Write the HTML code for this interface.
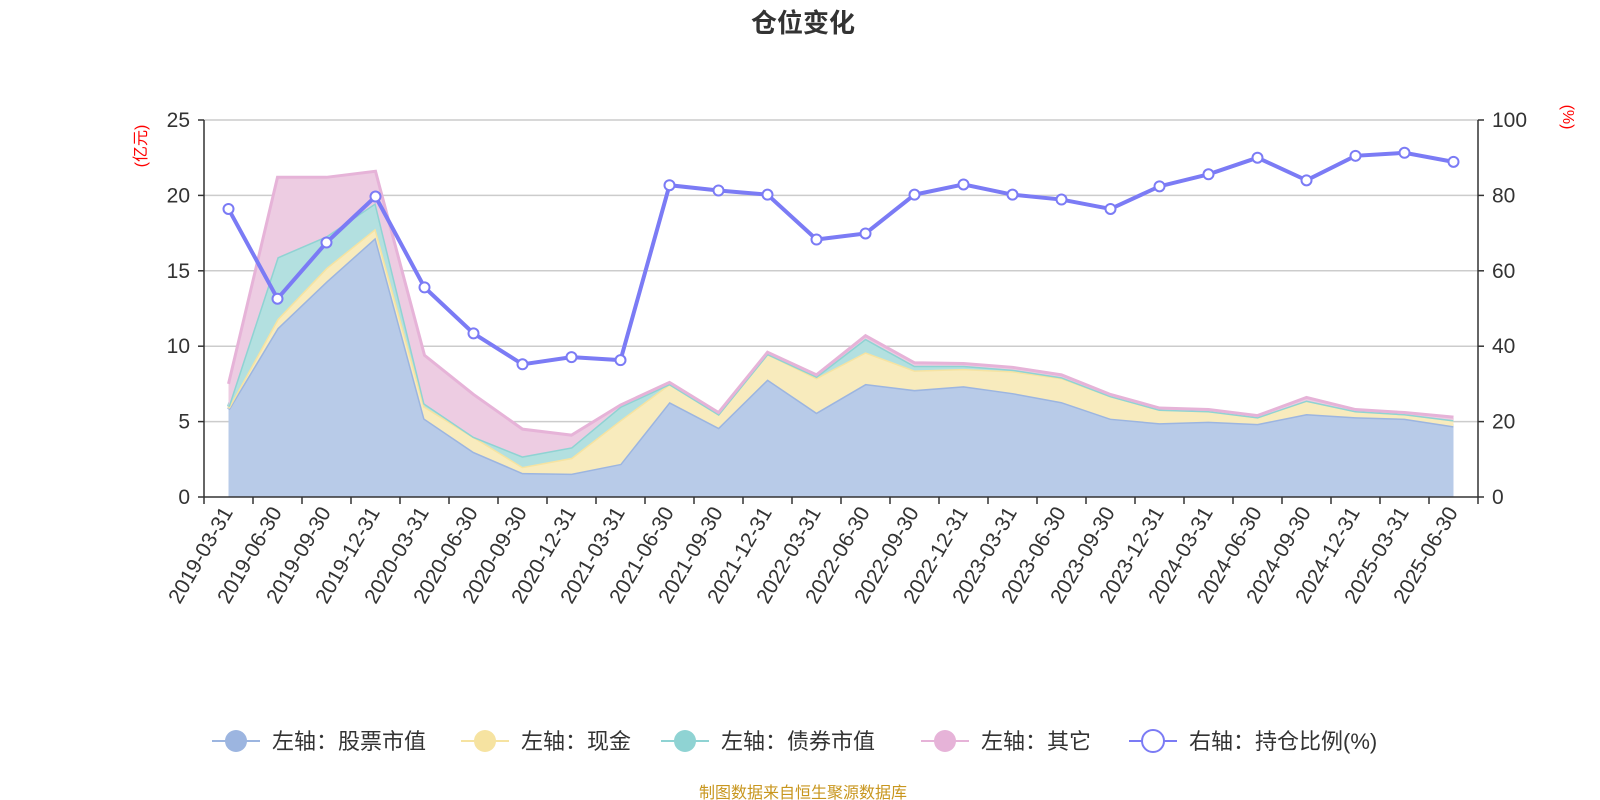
<!DOCTYPE html>
<html><head><meta charset="utf-8"><style>
body{margin:0;background:#fff}
svg{display:block;font-family:"Liberation Sans","Noto Sans CJK SC",sans-serif}
</style></head><body>
<svg id="c" width="1600" height="800" viewBox="0 0 1600 800">
<text x="803" y="32" text-anchor="middle" font-size="26" font-weight="bold" fill="#333">仓位变化</text>
<text transform="translate(146,146) rotate(-90)" text-anchor="middle" font-size="16" fill="#f00">(亿元)</text>
<text transform="translate(1563,117) rotate(90)" text-anchor="middle" font-size="16" fill="#f00">(%)</text>
<g id="grid"></g><g id="areas"></g><g id="axes"></g><g id="ratio"></g>
<g id="legend"></g>
<text x="803" y="798" text-anchor="middle" font-size="16" fill="#c8961e">制图数据来自恒生聚源数据库</text>
</svg>
<script>
const categories=["2019-03-31","2019-06-30","2019-09-30","2019-12-31","2020-03-31","2020-06-30","2020-09-30","2020-12-31","2021-03-31","2021-06-30","2021-09-30","2021-12-31","2022-03-31","2022-06-30","2022-09-30","2022-12-31","2023-03-31","2023-06-30","2023-09-30","2023-12-31","2024-03-31","2024-06-30","2024-09-30","2024-12-31","2025-03-31","2025-06-30"];
const stock=[5.8,11.2,14.3,17.2,5.2,3.0,1.6,1.55,2.2,6.3,4.6,7.8,5.6,7.5,7.1,7.35,6.9,6.3,5.2,4.9,5.0,4.85,5.5,5.3,5.2,4.7];
const cash=[0.1,0.6,0.9,0.6,0.8,1.0,0.4,1.05,2.9,1.2,0.9,1.7,2.3,2.1,1.3,1.15,1.45,1.6,1.5,0.9,0.7,0.45,0.9,0.4,0.3,0.4];
const bond=[0.1,4.1,2.1,1.7,0.2,0,0.7,0.7,0.9,0,0,0,0.1,0.9,0.3,0.2,0.1,0.05,0,0,0,0,0,0,0,0];
const other=[1.5,5.3,3.9,2.1,3.2,2.8,1.8,0.8,0.1,0.1,0.1,0.1,0.1,0.2,0.2,0.15,0.15,0.15,0.1,0.1,0.1,0.1,0.2,0.1,0.1,0.2];
const ratio=[76.4,52.6,67.5,79.7,55.6,43.4,35.2,37.1,36.3,82.7,81.3,80.2,68.3,69.9,80.2,82.9,80.2,78.9,76.4,82.4,85.6,90,84,90.5,91.3,88.9];
const leftTicks=[0,5,10,15,20,25];
const rightTicks=[0,20,40,60,80,100];
const L=204,R=1478,T=120,B=497,NS="http://www.w3.org/2000/svg";
const band=(R-L)/categories.length;
const xc=i=>L+band*(i+0.5);
const yl=v=>B-(v/25)*(B-T);
const yr=v=>B-(v/100)*(B-T);
function mk(tag,attrs,parent){const e=document.createElementNS(NS,tag);for(const k in attrs)e.setAttribute(k,attrs[k]);parent.appendChild(e);return e;}
const grid=document.getElementById('grid'),axes=document.getElementById('axes'),areas=document.getElementById('areas'),rg=document.getElementById('ratio'),lg=document.getElementById('legend');
leftTicks.forEach((v,i)=>{
 if(v>0){const g=mk('line',{x1:L,x2:R,y1:yl(v),y2:yl(v),stroke:'#ccc','stroke-width':1.5},grid);
 
 }
 const t=mk('text',{x:L-14,y:yl(v)+7,'text-anchor':'end','font-size':21,fill:'#333'},axes);t.textContent=v;
 
 
 mk('line',{x1:L-6,x2:L,y1:yl(v),y2:yl(v),stroke:'#333','stroke-width':1.5},axes);
});
rightTicks.forEach(v=>{
 const t=mk('text',{x:R+14,y:yr(v)+7,'font-size':21,fill:'#333'},axes);t.textContent=v;
 
 
 mk('line',{x1:R,x2:R+6,y1:yr(v),y2:yr(v),stroke:'#333','stroke-width':1.5},axes);
});
mk('line',{x1:L,x2:L,y1:T,y2:B,stroke:'#333','stroke-width':1.5},axes);
mk('line',{x1:R,x2:R,y1:T,y2:B,stroke:'#333','stroke-width':1.5},axes);
mk('line',{x1:L,x2:R,y1:B,y2:B,stroke:'#333','stroke-width':1.5},axes);
for(let i=0;i<=categories.length;i++)mk('line',{x1:L+band*i,x2:L+band*i,y1:B,y2:B+7,stroke:'#333','stroke-width':1.5},axes);
categories.forEach((c,i)=>{
 const t=mk('text',{transform:`translate(${xc(i)+5},${B+15}) rotate(-60)`,'text-anchor':'end','font-size':21,fill:'#333'},axes);t.textContent=c;
 
 
});
const series=[[stock,'#b8cbe8','#9cb5e0','stock-area'],[cash,'#f8ebbd','#f6e3a1','cash-area'],[bond,'#b3e0e0','#8fd3d3','bond-area'],[other,'#edcce2','#e6b3d8','other-area']];
let base=categories.map(()=>0);
series.forEach(([vals,fill,line,name])=>{
 const top=vals.map((v,i)=>base[i]+v);
 let d='M'+top.map((v,i)=>xc(i)+','+yl(v)).join('L');
 for(let i=categories.length-1;i>=0;i--)d+='L'+xc(i)+','+yl(base[i]);
 const a=mk('path',{d:d+'Z',fill:fill,stroke:'none'},areas);
 
 
 mk('polyline',{points:top.map((v,i)=>xc(i)+','+yl(v)).join(' '),fill:'none',stroke:line,'stroke-width':3},areas);
 base=top;
});
const pl=mk('polyline',{points:ratio.map((v,i)=>xc(i)+','+yr(v)).join(' '),fill:'none',stroke:'#7b7bf5','stroke-width':4},rg);


ratio.forEach((v,i)=>{const p=mk('circle',{cx:xc(i),cy:yr(v),r:5,fill:'#fff',stroke:'#7b7bf5','stroke-width':2},rg);
 
 });
const legendItems=[['左轴：股票市值','#9cb5e0',236,true],['左轴：现金','#f6e3a1',485,true],['左轴：债券市值','#8fd3d3',685,true],['左轴：其它','#e6b3d8',945,true],['右轴：持仓比例(%)','#7b7bf5',1153,false]];
legendItems.forEach(([txt,col,x,filled])=>{
 const g=mk('g',{},lg);
 
 
 mk('line',{x1:x-24,x2:x+24,y1:741,y2:741,stroke:col,'stroke-width':2},g);
 mk('circle',{cx:x,cy:741,r:11,fill:filled?col:'#fff',stroke:col,'stroke-width':filled?0:2},g);
 const t=mk('text',{x:x+36,y:749,'font-size':22,fill:'#333'},g);t.textContent=txt;
});
</script>
</body></html>
